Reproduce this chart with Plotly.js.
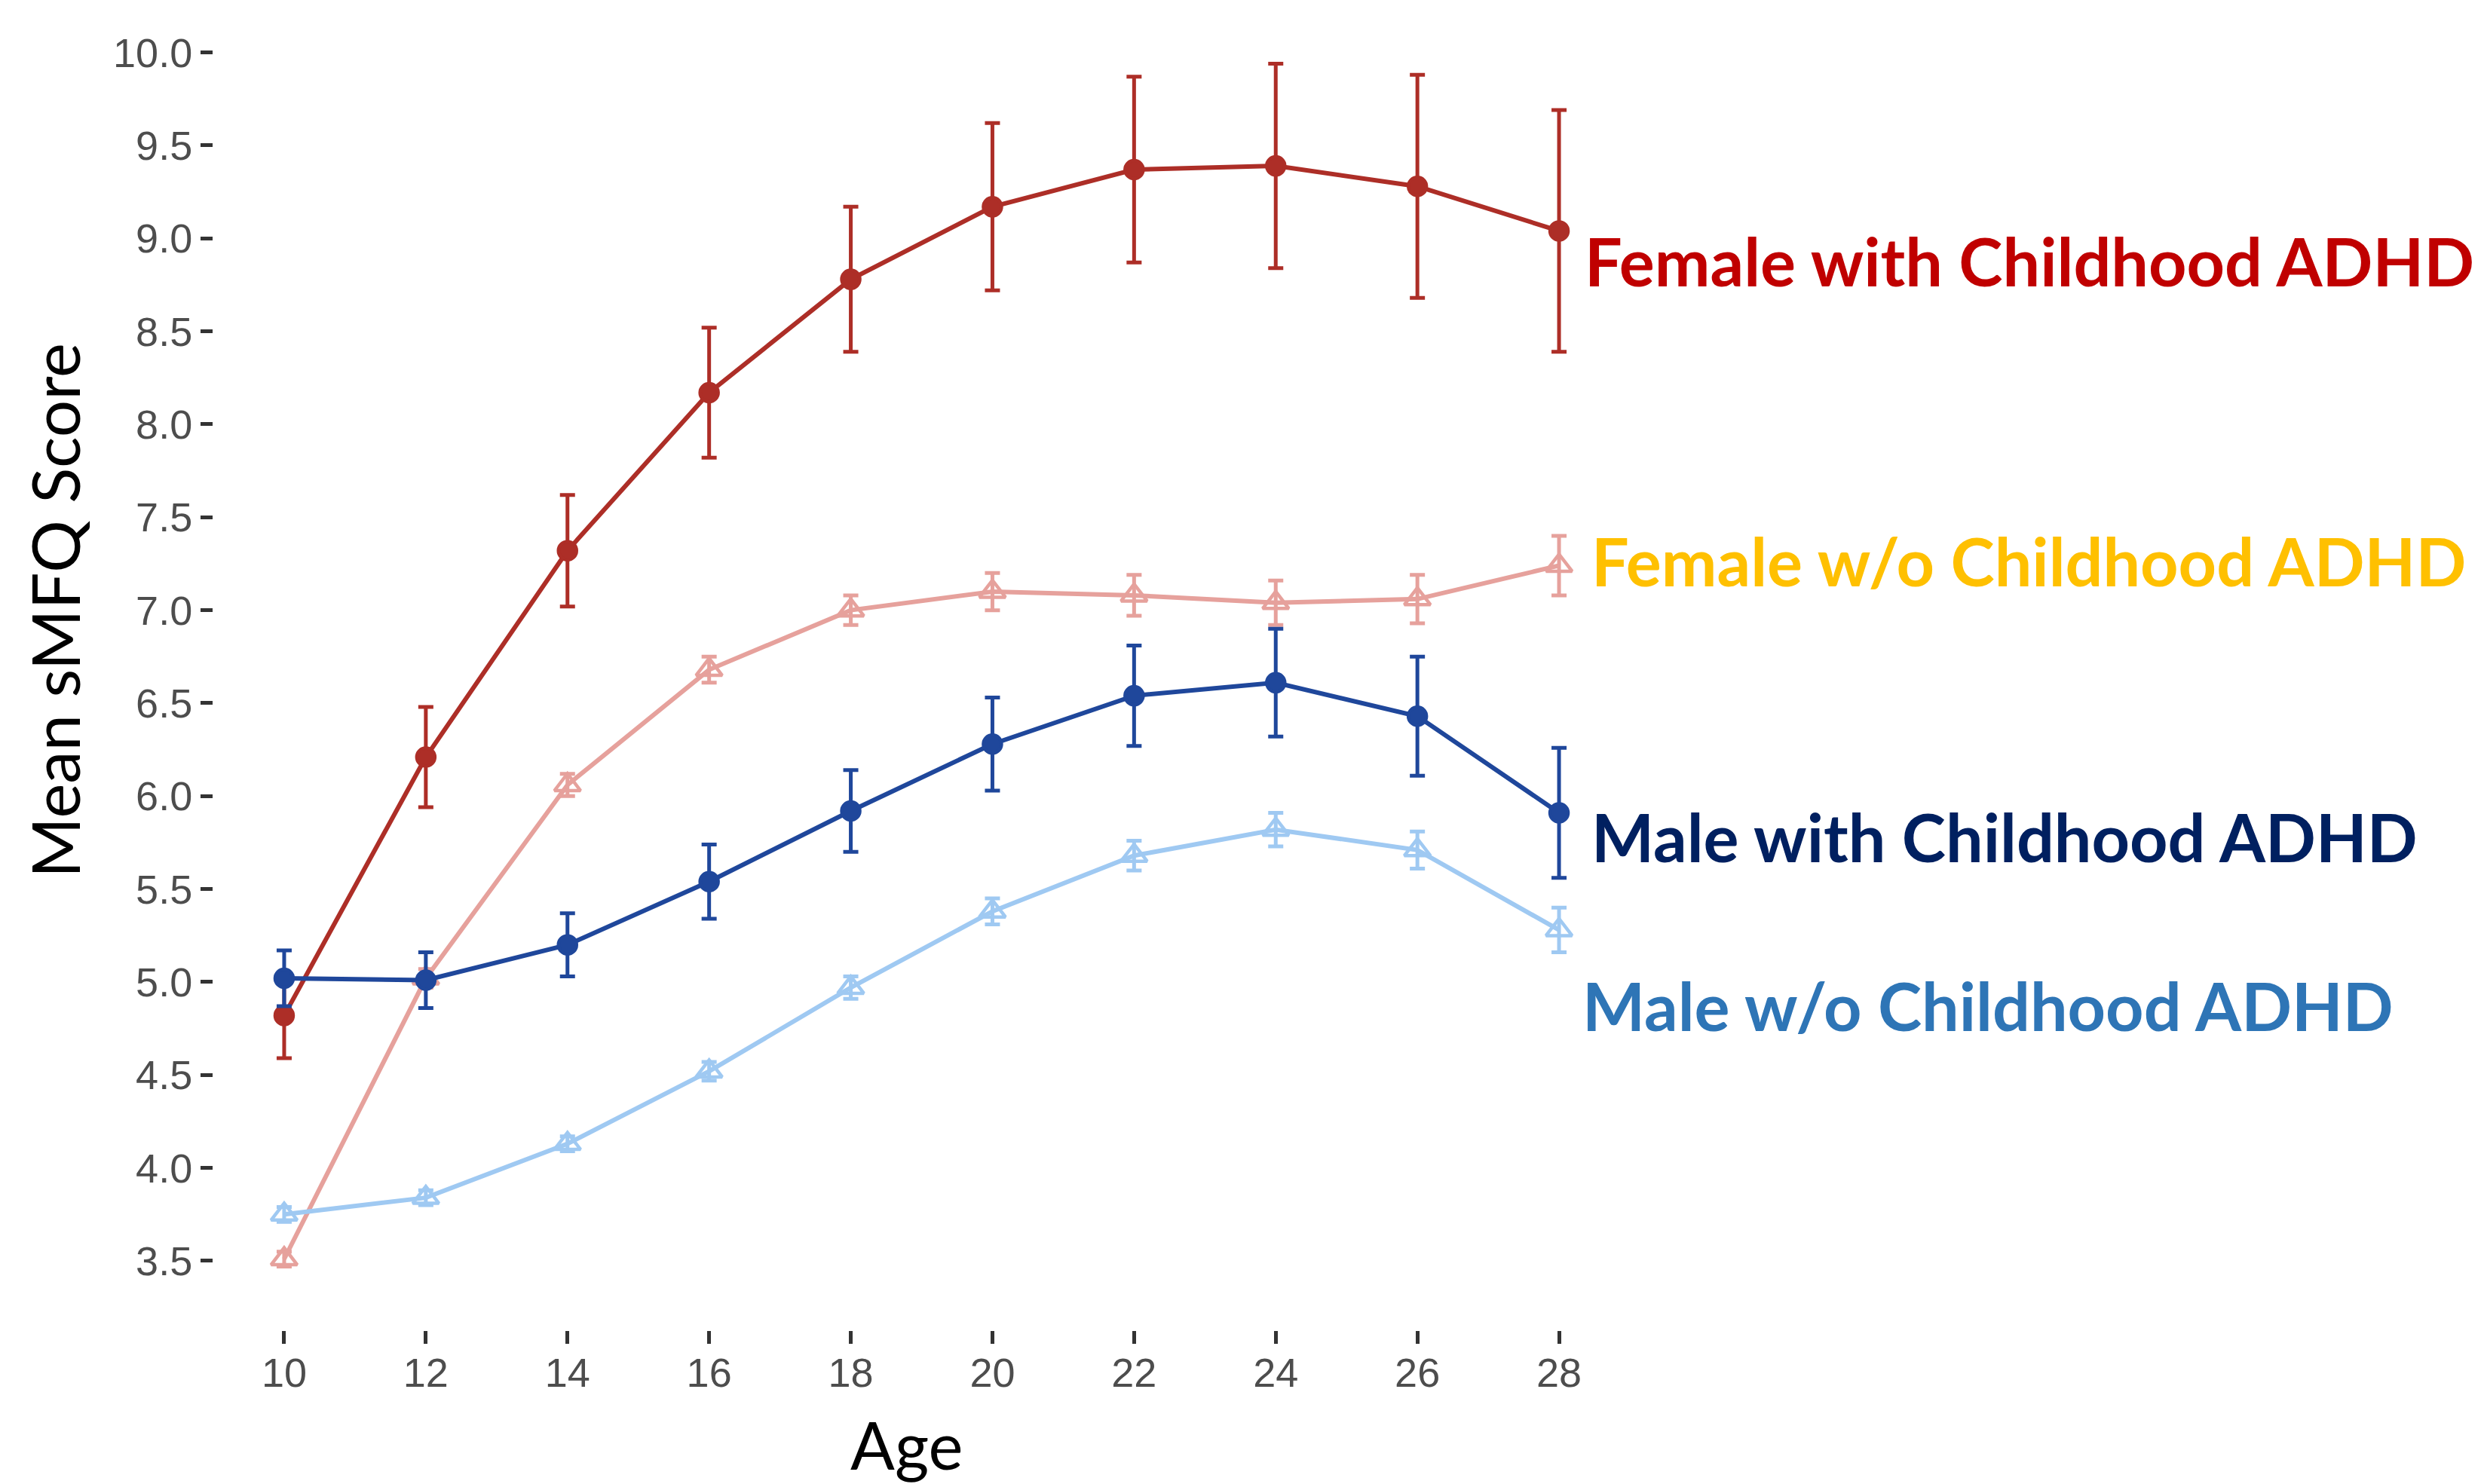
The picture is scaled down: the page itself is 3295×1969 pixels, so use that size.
<!DOCTYPE html>
<html>
<head>
<meta charset="utf-8">
<script src="https://cdn.plot.ly/plotly-3.0.1.min.js"></script>
<style>
  html, body { margin: 0; padding: 0; background: #ffffff; }
  #chart { width: 3295px; height: 1969px; }
</style>
</head>
<body>
<div id="chart"></div>
<script>
// ---- data ----
const ages = [10, 12, 14, 16, 18, 20, 22, 24, 26, 28];

const femaleAdhdMean = [4.82, 6.21, 7.32, 8.17, 8.78, 9.17, 9.37, 9.39, 9.28, 9.04];
const femaleAdhdErr  = [0.23, 0.27, 0.30, 0.35, 0.39, 0.45, 0.50, 0.55, 0.60, 0.65];

const femaleNoAdhdMean = [3.51, 5.02, 6.06, 6.68, 7.00, 7.10, 7.08, 7.04, 7.06, 7.24];
const femaleNoAdhdErr  = [0.04, 0.05, 0.06, 0.07, 0.08, 0.10, 0.11, 0.12, 0.13, 0.16];

const maleAdhdMean = [5.02, 5.01, 5.20, 5.54, 5.92, 6.28, 6.54, 6.61, 6.43, 5.91];
const maleAdhdErr  = [0.15, 0.15, 0.17, 0.20, 0.22, 0.25, 0.27, 0.29, 0.32, 0.35];

const maleNoAdhdMean = [3.75, 3.84, 4.13, 4.52, 4.97, 5.38, 5.68, 5.82, 5.71, 5.28];
const maleNoAdhdErr  = [0.04, 0.04, 0.04, 0.05, 0.06, 0.07, 0.08, 0.09, 0.10, 0.12];

const yTicks = [3.5, 4.0, 4.5, 5.0, 5.5, 6.0, 6.5, 7.0, 7.5, 8.0, 8.5, 9.0, 9.5, 10.0];
const yTickText = ["3.5", "4.0", "4.5", "5.0", "5.5", "6.0", "6.5", "7.0", "7.5", "8.0", "8.5", "9.0", "9.5", "10.0"];

const seriesLabels = [
  "Female with Childhood ADHD",
  "Female w/o Childhood ADHD",
  "Male with Childhood ADHD",
  "Male w/o Childhood ADHD"
];
const xTitle = "Age";
const yTitle = "Mean sMFQ Score";

// ---- layout geometry ----
const W = 3295, H = 1969;
const M = { l: 283, r: 1133, t: 3, b: 204 };
const PW = W - M.l - M.r, PH = H - M.t - M.b;
const px = xp => (xp - M.l) / PW;
const py = yp => (H - M.b - yp) / PH;

function trace(name, y, err, color, symbol, size, lw) {
  return {
    type: 'scatter', mode: 'lines+markers', name: name,
    x: ages, y: y,
    line: { color: color, width: lw },
    marker: { color: color, symbol: symbol, size: size, line: { color: color, width: 4.5 } },
    error_y: { type: 'data', array: err, visible: true, color: color, thickness: 5, width: 10 },
    showlegend: false, cliponaxis: false
  };
}

const data = [
  trace(seriesLabels[0], femaleAdhdMean, femaleAdhdErr, '#AD2E27', 'circle', 24, 6),
  trace(seriesLabels[1], femaleNoAdhdMean, femaleNoAdhdErr, '#E6A19C', 'triangle-up-open', 30, 6),
  trace(seriesLabels[2], maleAdhdMean, maleAdhdErr, '#1F479B', 'circle', 24, 6),
  trace(seriesLabels[3], maleNoAdhdMean, maleNoAdhdErr, '#9FC9F2', 'triangle-up-open', 30, 6)
];

const titleFamily = 'Lato, "Open Sans", sans-serif';
function label(text, color, xp, yp) {
  return {
    xref: 'paper', yref: 'paper', x: px(xp), y: py(yp),
    xanchor: 'left', yanchor: 'middle', showarrow: false,
    text: '<b>' + text + '</b>',
    font: { family: titleFamily, size: 88, weight: 700, color: color }
  };
}

const tickFont = { family: '"Liberation Sans", Arial, sans-serif', size: 54, color: '#4D4D4D' };

const layout = {
  width: W, height: H,
  margin: M,
  paper_bgcolor: '#ffffff', plot_bgcolor: '#ffffff',
  xaxis: {
    range: [9.0, 29.0],
    tickvals: ages, ticktext: ages.map(String),
    showgrid: false, zeroline: false, showline: false,
    ticks: 'outside', ticklen: 17, tickwidth: 5, tickcolor: '#333333',
    tickfont: tickFont, ticklabelstandoff: -8
  },
  yaxis: {
    range: [3.127, 10.27],
    tickvals: yTicks, ticktext: yTickText,
    showgrid: false, zeroline: false, showline: false,
    ticks: 'outside', ticklen: 16, tickwidth: 5, tickcolor: '#333333',
    tickfont: tickFont
  },
  annotations: [
    {
      xref: 'paper', yref: 'paper', x: px(1202), y: py(1916),
      xanchor: 'center', yanchor: 'middle', showarrow: false,
      text: xTitle, font: { family: titleFamily, size: 87, color: '#000000' }
    },
    {
      xref: 'paper', yref: 'paper', x: px(72), y: py(810),
      xanchor: 'center', yanchor: 'middle', showarrow: false, textangle: -90,
      text: yTitle, font: { family: titleFamily, size: 87, color: '#000000' }
    },
    label(seriesLabels[0], '#C00000', 2100, 346),
    label(seriesLabels[1], '#FFC000', 2109, 744),
    label(seriesLabels[2], '#002060', 2109, 1110),
    label(seriesLabels[3], '#2E75B6', 2097, 1334)
  ]
};

Plotly.newPlot('chart', data, layout, { displayModeBar: false, staticPlot: true });
</script>
</body>
</html>
